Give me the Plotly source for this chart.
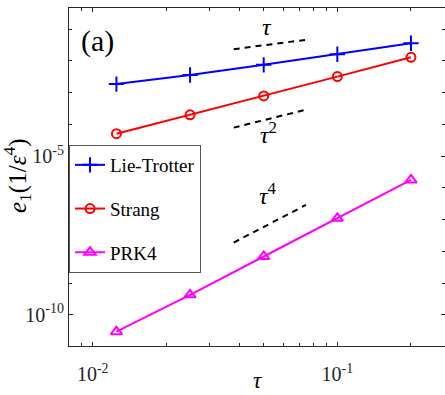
import plotly.graph_objects as go

tau = [0.0125, 0.025, 0.05, 0.1, 0.2]
lie_trotter = [1.86e-3, 3.6e-3, 7.5e-3, 1.62e-2, 3.6e-2]
strang = [5.1e-5, 2.0e-4, 7.9e-4, 3.2e-3, 1.3e-2]
prk4 = [2.96e-11, 4.3e-10, 6.9e-9, 1.1e-7, 1.78e-6]

ref_x = [0.0377, 0.0744]
ref_tau1 = [2.34e-2, 4.6e-2]
ref_tau2 = [7.9e-5, 2.9e-4]
ref_tau4 = [1.9e-8, 2.9e-7]

xtick_vals = [0.01, 0.1]
xtick_text = ["10<sup>-2</sup>", "10<sup>-1</sup>"]
xminor_vals = [0.008, 0.009, 0.02, 0.03, 0.04, 0.05, 0.06, 0.07, 0.08, 0.09, 0.2]
ytick_vals = [1e-10, 1e-5]
ytick_text = ["10<sup>-10</sup>", "10<sup>-5</sup>"]
yminor_vals = [1e-11, 1e-9, 1e-8, 1e-7, 1e-6, 1e-4, 1e-3, 1e-2, 1e-1]

FONT = "Liberation Serif"
L, T, W, H = 69, 8, 376, 338  # plot area in px


def px(xp):
    return (xp - L) / W


def py(yp):
    return (T + H - yp) / H


fig = go.Figure()
fig.add_trace(go.Scatter(x=tau, y=lie_trotter, name="Lie-Trotter", mode="lines+markers",
                         line=dict(color="#0000FF", width=2),
                         marker=dict(symbol="cross-thin", size=11, line=dict(color="#0000FF", width=2)),
                         legendgroup="a"))
fig.add_trace(go.Scatter(x=tau, y=strang, name="Strang", mode="lines+markers",
                         line=dict(color="#FF0000", width=2),
                         marker=dict(symbol="circle-open", size=9, line=dict(color="#FF0000", width=2)),
                         legendgroup="b"))
fig.add_trace(go.Scatter(x=tau, y=prk4, name="PRK4", mode="lines+markers",
                         line=dict(color="#FF00FF", width=2),
                         marker=dict(symbol="triangle-up-open", size=10, line=dict(color="#FF00FF", width=2)),
                         legendgroup="c"))
for ry in (ref_tau1, ref_tau2, ref_tau4):
    fig.add_trace(go.Scatter(x=ref_x, y=ry, mode="lines", showlegend=False,
                             line=dict(color="black", width=2, dash="6px,5px")))


def ann(xp, yp, text, size, angle=0):
    fig.add_annotation(x=px(xp), y=py(yp), xref="paper", yref="paper", text=text, showarrow=False,
                       xanchor="center", yanchor="middle", textangle=angle,
                       font=dict(family=FONT, size=size, color="black"))


ann(97.5, 40.5, "(a)", 30)
ann(266.7, 27, "<i>τ</i>", 24)
ann(268, 133, "<i>τ</i><sup>2</sup>", 24)
ann(268, 194, "<i>τ</i><sup>4</sup>", 24)
ann(17, 176, "<i>e</i><sub>1</sub>(1/<i>ε</i><sup>4</sup>)", 25, -90)
ann(257, 380, "<i>τ</i>", 23)

axis_common = dict(showgrid=False, zeroline=False, showline=True, linecolor="#262626", linewidth=1,
                   ticks="inside", ticklen=4, tickcolor="#262626", mirror="ticks",
                   tickfont=dict(family=FONT, size=20, color="#262626"))
fig.update_xaxes(type="log", range=[-2.097, -2.097 + W / 244.6], tickmode="array",
                 tickvals=xtick_vals, ticktext=xtick_text, ticklabelstandoff=10,
                 minor=dict(tickmode="array", tickvals=xminor_vals, ticks="inside", ticklen=3,
                            tickcolor="#262626", showgrid=False),
                 **axis_common)
fig.update_yaxes(type="log", range=[-10.98, -10.98 + H / 31.75], tickmode="array",
                 tickvals=ytick_vals, ticktext=ytick_text,
                 minor=dict(tickmode="array", tickvals=yminor_vals, ticks="inside", ticklen=3,
                            tickcolor="#262626", showgrid=False),
                 **axis_common)

fig.update_layout(
    width=445, height=395,
    margin=dict(l=L, r=445 - L - W, t=T, b=395 - T - H),
    paper_bgcolor="white", plot_bgcolor="white",
    font=dict(family=FONT, color="black"),
    legend=dict(x=0, y=py(145), xanchor="left", yanchor="top",
                bgcolor="white", bordercolor="#555555", borderwidth=1,
                font=dict(family=FONT, size=19, color="black"),
                traceorder="grouped", tracegroupgap=16),
)

fig.write_html("out.html", config={"displayModeBar": False},
               post_script="document.body.style.margin='0';document.body.style.overflow='hidden';")
